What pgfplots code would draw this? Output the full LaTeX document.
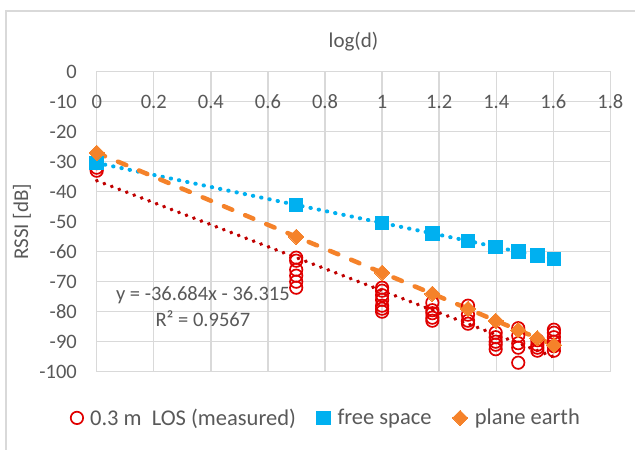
\documentclass[border=0pt]{standalone}
\usepackage{pgfplots}
\pgfplotsset{compat=1.18}
\usepackage{fontspec}
\setmainfont{Carlito}
\definecolor{txt}{HTML}{595959}
\definecolor{gridc}{HTML}{D9D9D9}
\definecolor{mred}{HTML}{E00000}
\definecolor{tred}{HTML}{C00000}
\definecolor{fsblue}{HTML}{00B0F0}
\definecolor{peor}{HTML}{F5822A}
\begin{document}
\begin{tikzpicture}[x=1bp,y=1bp]
\useasboundingbox (0,0) rectangle (635,-450);
\fill[white] (0,0) rectangle (635,-450);
\draw[gridc, line width=1.3bp] (6,-450) -- (6,-11) -- (635,-11);
\node[rotate=90, text=txt, font=\fontsize{21bp}{25bp}\selectfont] at (22,-221.7) {RSSI [dB]};
\node[text=txt, font=\fontsize{21bp}{25bp}\selectfont] at (353.5,-42) {log(d)};
\begin{axis}[
  at={(96.7bp,-71.7bp)}, anchor=north west,
  width=513.7bp, height=300bp, scale only axis,
  xmin=0, xmax=1.8, ymin=-100, ymax=0,
  clip=false,
  xtick={0,0.2,0.4,0.6,0.8,1,1.2,1.4,1.6,1.8},
  xticklabels={0,0.2,0.4,0.6,0.8,1,1.2,1.4,1.6,1.8},
  ytick={-100,-90,-80,-70,-60,-50,-40,-30,-20,-10,0},
  yticklabels={-100,-90,-80,-70,-60,-50,-40,-30,-20,-10,0},
  xticklabel pos=upper,
  xticklabel style={anchor=center, inner sep=0pt, yshift=-30bp},
  yticklabel style={anchor=east, inner sep=0pt, xshift=-19.7bp},
  tick label style={text=txt, font=\fontsize{20.5bp}{24bp}\selectfont},
  major tick length=0pt, tick style={draw=none},
  grid=major, grid style={gridc, line width=1.4bp},
  axis line style={gridc, line width=1.4bp},
  legend columns=3,
  legend style={at={(0.445,-0.154)}, anchor=center, draw=none, fill=none,
    font=\fontsize{22.5bp}{27bp}\selectfont, text=txt, inner sep=0pt,
    nodes={inner sep=0pt},
    /tikz/every odd column/.append style={column sep=7bp},
    /tikz/every even column/.append style={column sep=21bp}},
  legend image code/.code={\draw[#1] plot coordinates {(0bp,0bp)};},
]
\addplot[only marks, mred, mark=o, mark size=6.2bp, mark options={draw=mred, line width=1.7bp}] coordinates {
(0,-30.5) (0,-32) (0,-33)
(0.699,-62) (0.699,-63) (0.699,-66) (0.699,-68) (0.699,-70) (0.699,-72)
(1,-72) (1,-73) (1,-74.5) (1,-76) (1,-78) (1,-79) (1,-80)
(1.176,-77) (1.176,-79.5) (1.176,-80.5) (1.176,-82) (1.176,-83)
(1.301,-78) (1.301,-81) (1.301,-83) (1.301,-84)
(1.398,-87) (1.398,-88.5) (1.398,-90) (1.398,-91) (1.398,-92.5)
(1.477,-85.5) (1.477,-88) (1.477,-90.5) (1.477,-92) (1.477,-97)
(1.544,-89.5) (1.544,-91) (1.544,-92) (1.544,-93)
(1.602,-86) (1.602,-87) (1.602,-88.5) (1.602,-90) (1.602,-91.5) (1.602,-93)
};
\addlegendentry{0.3 m\ \ LOS (measured)}
\addplot[forget plot, tred, line width=3.8bp, line cap=round, dash pattern=on 0.4bp off 7.6bp] coordinates {(0,-36.315) (1.602,-95.08)};
\addplot[forget plot, fsblue, line width=4bp, line cap=round, dash pattern=on 0.4bp off 8bp] coordinates {
(0,-30.4) (0.699,-44.4) (1,-50.4) (1.176,-53.9) (1.301,-56.4) (1.398,-58.4) (1.477,-60) (1.544,-61.3) (1.602,-62.4)};
\addplot[only marks, fsblue, mark=square*, mark size=6.8bp, mark options={fill=fsblue, draw=fsblue, line width=0pt}] coordinates {
(0,-30.4) (0.699,-44.4) (1,-50.4) (1.176,-53.9) (1.301,-56.4) (1.398,-58.4) (1.477,-60) (1.544,-61.3) (1.602,-62.4)};
\addlegendentry{free space}
\addplot[forget plot, peor, line width=4.5bp, line cap=round, dash pattern=on 9bp off 14bp] coordinates {
(0,-27) (0.699,-55) (1,-67) (1.176,-74) (1.301,-79) (1.398,-83) (1.477,-86.1) (1.544,-88.8) (1.602,-91.1)};
\addplot[only marks, peor, mark=square*, mark size=5.4bp, mark options={fill=peor, draw=peor, line width=0pt, rotate=45}] coordinates {
(0,-27) (0.699,-55) (1,-67) (1.176,-74) (1.301,-79) (1.398,-83) (1.477,-86.1) (1.544,-88.8) (1.602,-91.1)};
\addlegendentry{plane earth}
\node[text=txt, font=\fontsize{20.5bp}{24bp}\selectfont, align=center] at (axis cs:0.372,-78.3) {y = -36.684x - 36.315\\[2bp]R² = 0.9567};
\end{axis}
\end{tikzpicture}
\end{document}
